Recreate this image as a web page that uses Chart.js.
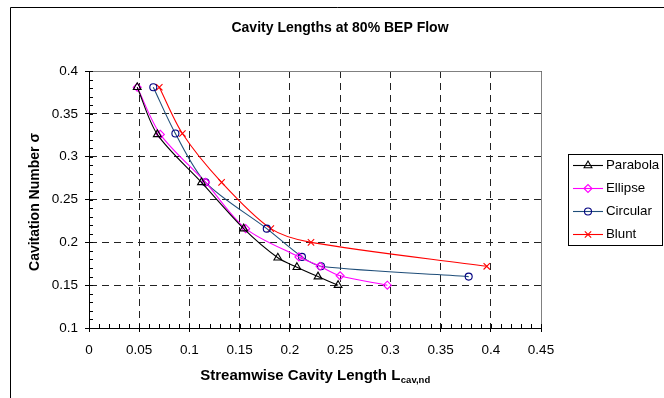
<!DOCTYPE html>
<html>
<head>
<meta charset="utf-8">
<title>Cavity Lengths at 80% BEP Flow</title>
<script src="https://cdn.jsdelivr.net/npm/chart.js@4.4.1/dist/chart.umd.min.js"></script>
<style>
  body { margin: 0; background: #fff; }
  #grafico { display: block; }
</style>
</head>
<body>
<canvas id="grafico" width="664" height="398"></canvas>
<script>
// dados
const nomes = ['Parabola', 'Ellipse', 'Circular', 'Blunt'];

const parabolaX = [0.048, 0.068, 0.112, 0.154, 0.188, 0.207, 0.228, 0.248];
const parabolaY = [0.381, 0.326, 0.270, 0.216, 0.182, 0.171, 0.160, 0.150];

const ellipseX = [0.048, 0.071, 0.116, 0.156, 0.209, 0.230, 0.250, 0.297];
const ellipseY = [0.381, 0.326, 0.270, 0.216, 0.183, 0.172, 0.161, 0.150];

const circularX = [0.064, 0.086, 0.116, 0.177, 0.212, 0.231, 0.378];
const circularY = [0.381, 0.327, 0.270, 0.216, 0.183, 0.172, 0.160];

const bluntX = [0.070, 0.093, 0.132, 0.181, 0.221, 0.396];
const bluntY = [0.381, 0.327, 0.270, 0.216, 0.200, 0.172];

const ticksX = [0, 0.05, 0.1, 0.15, 0.2, 0.25, 0.3, 0.35, 0.4, 0.45];
const ticksY = [0.1, 0.15, 0.2, 0.25, 0.3, 0.35, 0.4];

const fonte = "'Liberation Sans', Arial, sans-serif";

function pontos(xs, ys) {
  return xs.map((x, i) => ({ x: x, y: ys[i] }));
}

function serie(nome, xs, ys, cor, corPonto, estilo, raio) {
  return {
    label: nome,
    data: pontos(xs, ys),
    borderColor: cor,
    borderWidth: 1.1,
    pointStyle: estilo,
    pointRadius: raio,
    pointBorderColor: corPonto,
    pointBackgroundColor: 'rgba(0,0,0,0)',
    pointBorderWidth: 1.1,
    tension: 0.3,
    fill: false
  };
}

// moldura, ticks menores, titulos e legenda
const extras = {
  id: 'extras',
  afterDraw(chart) {
    const c = chart.ctx;
    const a = chart.chartArea;
    const sx = chart.scales.x;
    const sy = chart.scales.y;

    c.save();
    // borda externa
    c.strokeStyle = '#000';
    c.lineWidth = 1;
    c.beginPath();
    c.moveTo(10.5, 398);
    c.lineTo(10.5, 7.5);
    c.lineTo(664, 7.5);
    c.stroke();

    // borda cinza da area de plotagem
    c.strokeStyle = '#808080';
    c.beginPath();
    c.moveTo(a.left, a.top + 0.5);
    c.lineTo(a.right + 0.5, a.top + 0.5);
    c.lineTo(a.right + 0.5, a.bottom);
    c.stroke();

    // ticks internos
    c.strokeStyle = '#000';
    c.beginPath();
    for (let i = 0; i < ticksX.length; i++) {
      const px = Math.round(sx.getPixelForValue(ticksX[i])) + 0.5;
      c.moveTo(px, a.bottom);
      c.lineTo(px, a.bottom - 4);
      if (i < ticksX.length - 1) {
        const passo = (ticksX[i + 1] - ticksX[i]) / 5;
        for (let k = 1; k < 5; k++) {
          const mx = Math.round(sx.getPixelForValue(ticksX[i] + passo * k)) + 0.5;
          c.moveTo(mx, a.bottom);
          c.lineTo(mx, a.bottom - 4);
        }
      }
    }
    for (let i = 0; i < ticksY.length; i++) {
      const py = Math.round(sy.getPixelForValue(ticksY[i])) + 0.5;
      c.moveTo(a.left, py);
      c.lineTo(a.left + 4, py);
      if (i < ticksY.length - 1) {
        const passo = (ticksY[i + 1] - ticksY[i]) / 5;
        for (let k = 1; k < 5; k++) {
          const my = Math.round(sy.getPixelForValue(ticksY[i] + passo * k)) + 0.5;
          c.moveTo(a.left, my);
          c.lineTo(a.left + 4, my);
        }
      }
    }
    c.stroke();

    // titulo
    c.fillStyle = '#000';
    c.textAlign = 'center';
    c.textBaseline = 'middle';
    c.font = 'bold 14px ' + fonte;
    c.fillText('Cavity Lengths at 80% BEP Flow', 340, 28);

    // titulo eixo y
    c.save();
    c.translate(35, 202);
    c.rotate(-Math.PI / 2);
    c.font = 'bold 14px ' + fonte;
    c.fillText('Cavitation Number σ', 0, 0);
    c.restore();

    // titulo eixo x com subscrito
    const principal = 'Streamwise Cavity Length L';
    const sub = 'cav,nd';
    c.font = 'bold 15px ' + fonte;
    const w1 = c.measureText(principal).width;
    c.font = 'bold 9.5px ' + fonte;
    const w2 = c.measureText(sub).width;
    const x0 = 315 - (w1 + w2) / 2;
    c.textAlign = 'left';
    c.textBaseline = 'alphabetic';
    c.font = 'bold 15px ' + fonte;
    c.fillText(principal, x0, 380);
    c.font = 'bold 9.5px ' + fonte;
    c.fillText(sub, x0 + w1 + 0.5, 383);

    // legenda
    c.strokeStyle = '#000';
    c.lineWidth = 1;
    c.strokeRect(568.5, 154.5, 94, 91);
    const ys = [165, 188, 211, 234];
    chart.data.datasets.forEach((ds, i) => {
      const y = ys[i];
      c.strokeStyle = ds.borderColor;
      c.lineWidth = 1.1;
      c.beginPath();
      c.moveTo(573, y + 0.5);
      c.lineTo(603, y + 0.5);
      c.stroke();
      c.strokeStyle = ds.pointBorderColor;
      c.fillStyle = 'rgba(0,0,0,0)';
      Chart.helpers.drawPoint(c, {
        pointStyle: ds.pointStyle,
        radius: ds.pointRadius,
        borderWidth: 1.1,
        rotation: 0
      }, 588, y + 0.5);
      c.fillStyle = '#000';
      c.font = '13.3px ' + fonte;
      c.textAlign = 'left';
      c.textBaseline = 'middle';
      c.fillText(ds.label, 606, y);
    });
    c.restore();
  }
};

new Chart(document.getElementById('grafico'), {
  type: 'line',
  data: {
    datasets: [
      serie(nomes[0], parabolaX, parabolaY, '#000000', '#000000', 'triangle', 4.5),
      serie(nomes[1], ellipseX, ellipseY, '#ff00ff', '#ff00ff', 'rectRot', 4),
      serie(nomes[2], circularX, circularY, '#1f4e79', '#000080', 'circle', 3.5),
      serie(nomes[3], bluntX, bluntY, '#ff0000', '#ff0000', 'crossRot', 4.5)
    ]
  },
  options: {
    responsive: false,
    animation: false,
    events: [],
    layout: { padding: { left: 0, top: 71, right: 123, bottom: 0 } },
    plugins: {
      legend: { display: false },
      title: { display: false },
      tooltip: { enabled: false }
    },
    scales: {
      x: {
        type: 'linear',
        min: ticksX[0],
        max: ticksX[ticksX.length - 1],
        afterBuildTicks: s => { s.ticks = ticksX.map(v => ({ value: v })); },
        afterFit: s => { s.height = 70; },
        grid: { color: '#222', lineWidth: 1, tickLength: 4, tickColor: '#000' },
        border: { color: '#000', width: 1, dash: [7, 5] },
        ticks: {
          autoSkip: false,
          maxRotation: 0,
          padding: 10,
          color: '#000',
          font: { family: fonte, size: 13.5 },
          callback: v => String(+v.toFixed(2))
        }
      },
      y: {
        type: 'linear',
        min: ticksY[0],
        max: ticksY[ticksY.length - 1],
        afterBuildTicks: s => { s.ticks = ticksY.map(v => ({ value: v })); },
        afterFit: s => { s.width = 89; },
        grid: { color: '#222', lineWidth: 1, tickLength: 4, tickColor: '#000' },
        border: { color: '#000', width: 1, dash: [7, 5] },
        ticks: {
          autoSkip: false,
          padding: 7,
          color: '#000',
          font: { family: fonte, size: 13.5 },
          callback: v => String(+v.toFixed(2))
        }
      }
    }
  },
  plugins: [extras]
});
</script>
</body>
</html>
